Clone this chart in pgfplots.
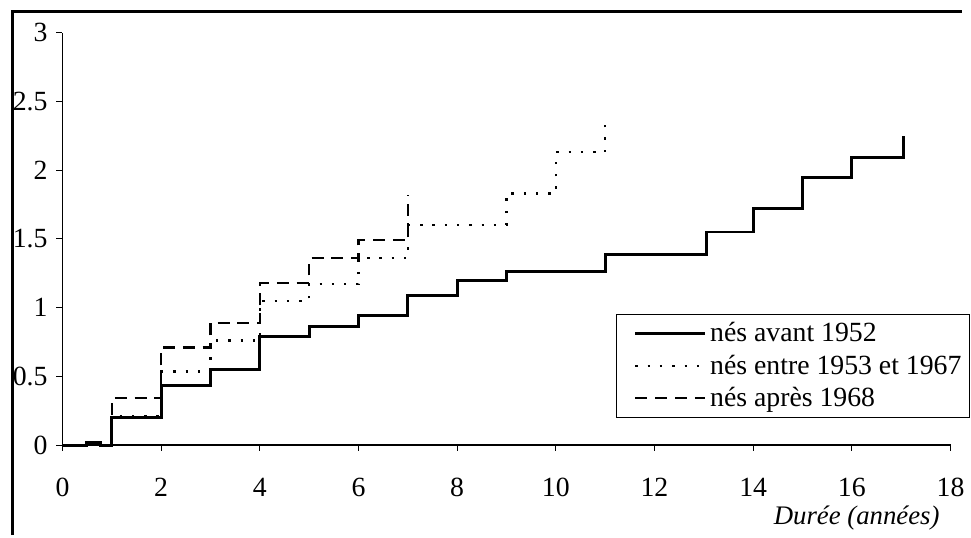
\documentclass[border=0pt]{standalone}
\usepackage{fontspec}
\setmainfont{Liberation Serif}
\usepackage{pgfplots}
\pgfplotsset{compat=1.18}

\begin{document}
\begin{tikzpicture}
\begin{axis}[
    at={(0,0)}, anchor=south west,
    scale only axis,
    width=448pt, height=208pt,
    xmin=0, xmax=18, ymin=0, ymax=3,
    xtick={0,2,...,18},
    ytick={0,0.5,...,3},
    axis lines=left,
    axis line style={-, line width=0.6pt},
    tick style={line width=0.5pt, black},
    tick align=outside,
    major tick length=3pt,
    clip=false,
    /pgf/number format/assume math mode=true,
    tick label style={font=\fontsize{14}{16}\selectfont},
    xticklabel style={yshift=-10pt},
    yticklabel style={xshift=-1pt},
    legend style={at={(0.6228,0.3173)}, anchor=north west, draw=black,
        line width=0.5pt, font=\fontsize{14}{16}\selectfont,
        inner sep=2pt, row sep=1pt, legend cell align=left},
    legend image code/.code={\path (0pt,0pt); \draw[#1] (7pt,0pt) -- (42pt,0pt);},
]
% nes avant 1952
\addplot[const plot, black, line width=1.5pt] coordinates {
    (0,0) (0.48,0.02) (0.78,0) (1,0.2) (2,0.43) (3,0.55) (4,0.79) (5,0.865)
    (6,0.945) (7,1.09) (8,1.2) (9,1.26) (11,1.385) (13.05,1.55) (14,1.72)
    (15,1.95) (16,2.09) (17.05,2.25)
};
\addlegendentry{nés avant 1952}
% nes entre 1953 et 1967
\addplot[const plot, black, line width=1.2pt, dash pattern=on 1.2pt off 5pt] coordinates {
    (0,0) (1,0.21) (2,0.535) (3,0.76) (4,1.05) (5,1.17) (6,1.36) (7,1.6)
    (9,1.83) (10,2.13) (11,2.4)
};
\addlegendentry{nés entre 1953 et 1967}
% nes apres 1968
\addplot[const plot, black, line width=1.2pt, dash pattern=on 6pt off 4pt] coordinates {
    (0,0) (1,0.34) (2,0.71) (3,0.89) (4,1.18) (5,1.36) (6,1.49) (7,1.82)
};
\addlegendentry{nés après 1968}
\end{axis}
\node[anchor=east, font=\fontsize{13.5}{15}\selectfont\itshape] at (446pt,-37pt) {Durée (années)};
% outer frame (left and top edges visible)
\draw[line width=1.5pt] (-25pt,-45.5pt) -- (-25pt,218.5pt) -- (454pt,218.5pt);
\path (-31.5pt,-45.5pt) rectangle (454pt,224.5pt);
\end{tikzpicture}
\end{document}
